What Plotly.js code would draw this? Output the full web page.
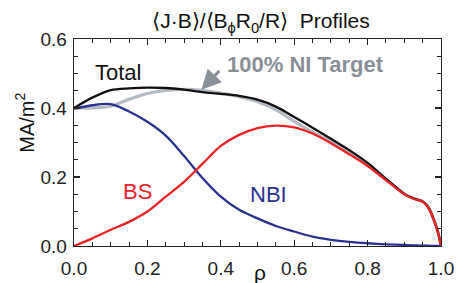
<!DOCTYPE html>
<html>
<head>
<meta charset="utf-8">
<script src="https://cdn.plot.ly/plotly-3.0.1.min.js"></script>
<style>html,body{margin:0;padding:0;background:#fff;}#chart{width:458px;height:283px;}</style>
</head>
<body>
<div id="chart"></div>
<script>
const rho    = [0, 0.05, 0.10, 0.15, 0.20, 0.25, 0.30, 0.35, 0.40, 0.45, 0.50, 0.55, 0.60, 0.65, 0.70, 0.75, 0.80, 0.85, 0.90, 0.925, 0.95, 0.965, 0.975, 0.985, 0.993, 1.0];
const total  = [0.400, 0.430, 0.452, 0.457, 0.459, 0.458, 0.453, 0.446, 0.441, 0.435, 0.424, 0.404, 0.374, 0.343, 0.311, 0.278, 0.241, 0.195, 0.151, 0.138, 0.129, 0.113, 0.091, 0.063, 0.035, 0.0];
const target = [0.400, 0.400, 0.405, 0.425, 0.442, 0.451, 0.454, 0.451, 0.443, 0.433, 0.418, 0.395, 0.361, 0.330, 0.303, 0.274, 0.238, 0.193, 0.151, 0.138, 0.129, 0.113, 0.091, 0.063, 0.035, 0.0];
const nbi    = [0.398, 0.408, 0.411, 0.390, 0.360, 0.320, 0.261, 0.197, 0.143, 0.105, 0.080, 0.058, 0.042, 0.027, 0.018, 0.012, 0.008, 0.005, 0.003, 0.002, 0.001, 0.001, 0.0005, 0.0, 0.0, 0.0];
const bs     = [0.000, 0.022, 0.047, 0.070, 0.100, 0.143, 0.186, 0.238, 0.290, 0.322, 0.342, 0.349, 0.344, 0.326, 0.298, 0.266, 0.232, 0.191, 0.150, 0.137, 0.128, 0.112, 0.090, 0.062, 0.035, 0.0];
const xTicks = [0, 0.2, 0.4, 0.6, 0.8, 1.0];
const xTickText = ['0.0', '0.2', '0.4', '0.6', '0.8', '1.0'];
const yTicks = [0, 0.2, 0.4, 0.6];
const yTickText = ['0.0', '0.2', '0.4', '0.6'];

const FONT = 'Liberation Sans, Arial, Helvetica, sans-serif';
const C_TOTAL = '#111111', C_TARGET = '#b5bbc2', C_NBI = '#2b3190', C_BS = '#ec2227', C_LABEL = '#8a9097';

const line = (y, color, width, name) => ({
  x: rho, y: y, type: 'scatter', mode: 'lines', name: name,
  line: {color: color, width: width, shape: 'spline', smoothing: 0.85},
  hoverinfo: 'skip'
});

const data = [
  line(target, C_TARGET, 3.2, '100% NI Target'),
  line(total, C_TOTAL, 2.3, 'Total'),
  line(nbi, C_NBI, 2.3, 'NBI'),
  line(bs, C_BS, 2.3, 'BS')
];

const axisCommon = {
  showgrid: false, zeroline: false, showline: true, linecolor: '#222', linewidth: 1.3,
  mirror: 'ticks', ticks: 'inside', ticklen: 6, tickwidth: 1.2, tickcolor: '#222',
  tickfont: {family: FONT, size: 19, color: '#222'},
  fixedrange: true
};

const layout = {
  width: 458, height: 283,
  margin: {l: 74, r: 17, t: 39, b: 37},
  paper_bgcolor: '#fff', plot_bgcolor: '#fff',
  showlegend: false,
  title: {
    text: '⟨J·B⟩/⟨B<sub>ϕ</sub>R<sub>0</sub>/R⟩  Profiles',
    font: {family: FONT, size: 21, color: '#111'},
    xref: 'container', x: 261/458, xanchor: 'center',
    yref: 'container', y: 1 - 21/283, yanchor: 'middle'
  },
  xaxis: Object.assign({}, axisCommon, {
    range: [0, 1], tickvals: xTicks, ticktext: xTickText,
    minor: {dtick: 0.05, ticks: 'inside', ticklen: 4, tickcolor: '#222', tickwidth: 1},
    ticklabelstandoff: 5
  }),
  yaxis: Object.assign({}, axisCommon, {
    range: [0, 0.6], tickvals: yTicks, ticktext: yTickText,
    minor: {dtick: 0.05, ticks: 'inside', ticklen: 4, tickcolor: '#222', tickwidth: 1},
    ticklabelstandoff: 2
  }),
  annotations: [
    {text: 'MA/m<sup>2</sup>', xref: 'paper', yref: 'paper', x: -74/367 + 25/367, y: (246.3-123)/207,
     textangle: -90, showarrow: false, xanchor: 'center', yanchor: 'middle',
     font: {family: FONT, size: 20, color: '#111'}},
    {text: 'ρ', xref: 'paper', yref: 'paper', x: (260-74)/367, y: -(272-246)/207,
     showarrow: false, xanchor: 'center', yanchor: 'middle',
     font: {family: FONT, size: 21, color: '#111'}},
    {text: 'Total', xref: 'x', yref: 'y', x: (117.5-74)/366, y: (246.3-73)/345,
     showarrow: false, xanchor: 'center', yanchor: 'middle',
     font: {family: FONT, size: 22, color: '#111'}},
    {text: '<b>100% NI Target</b>', xref: 'x', yref: 'y', x: (305-74)/366, y: (246.3-65)/345,
     showarrow: false, xanchor: 'center', yanchor: 'middle',
     font: {family: FONT, size: 22, color: C_LABEL}},
    {text: ' ', xref: 'x', yref: 'y', x: (201-74)/366, y: (246.3-90)/345,
     showarrow: true, ax: 21, ay: -22, arrowhead: 2, arrowsize: 1.3, arrowwidth: 3,
     arrowcolor: C_LABEL},
    {text: 'BS', xref: 'x', yref: 'y', x: (137-74)/366, y: (246.3-192)/345,
     showarrow: false, xanchor: 'center', yanchor: 'middle',
     font: {family: FONT, size: 22, color: C_BS}},
    {text: 'NBI', xref: 'x', yref: 'y', x: (268-74)/366, y: (246.3-195)/345,
     showarrow: false, xanchor: 'center', yanchor: 'middle',
     font: {family: FONT, size: 22, color: C_NBI}}
  ]
};

Plotly.newPlot('chart', data, layout, {staticPlot: true, displayModeBar: false});
</script>
</body>
</html>
